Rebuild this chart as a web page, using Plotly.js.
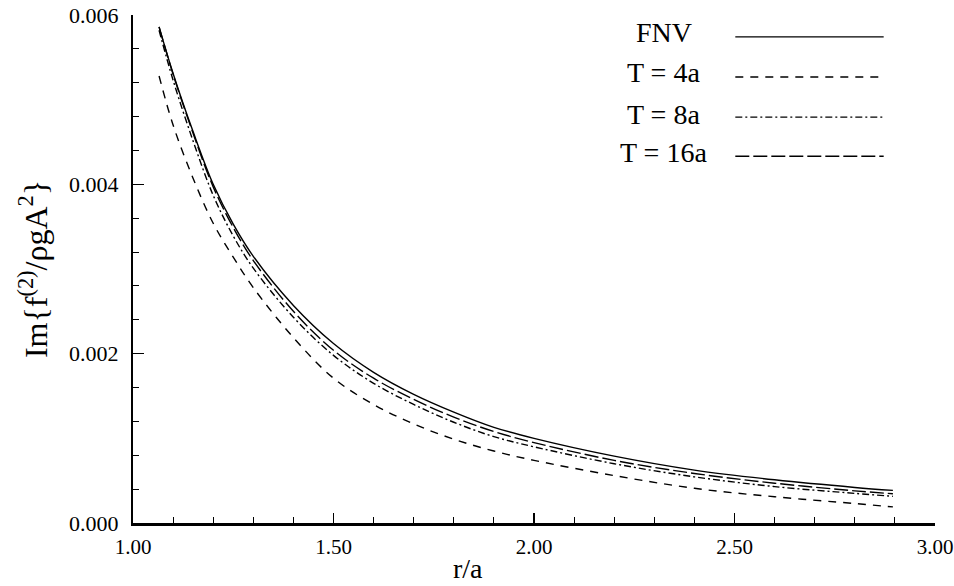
<!DOCTYPE html>
<html>
<head>
<meta charset="utf-8">
<script src="https://cdn.plot.ly/plotly-3.0.1.min.js"></script>
<style>html,body{margin:0;padding:0;background:#fff;}#chart{width:954px;height:586px;}</style>
</head>
<body>
<div id="chart"></div>
<script>
// r/a sample positions
const rA = [1.065, 1.10, 1.15, 1.20, 1.25, 1.30, 1.40, 1.50, 1.60, 1.70, 1.80, 1.90, 2.00, 2.20, 2.40, 2.60, 2.80, 2.895];
// Im{f(2)/rho g A^2}
const fnv  = [0.00586, 0.00531, 0.00462, 0.00400, 0.00353, 0.00315, 0.00257, 0.00212, 0.00178, 0.00152, 0.00131, 0.00113, 0.00100, 0.00079, 0.000625, 0.00051, 0.00042, 0.000385];
const t4a  = [0.00528, 0.00470, 0.00407, 0.00354, 0.00314, 0.00278, 0.00219, 0.00171, 0.00140, 0.00117, 0.00099, 0.00085, 0.00074, 0.00056, 0.00041, 0.00031, 0.00023, 0.00019];
const t8a  = [0.00582, 0.00523, 0.00451, 0.00387, 0.00339, 0.00301, 0.00243, 0.00198, 0.00165, 0.00140, 0.00119, 0.00102, 0.00090, 0.00070, 0.000545, 0.00043, 0.00035, 0.000315];
const t16a = [0.00586, 0.00530, 0.00460, 0.00397, 0.00349, 0.00310, 0.00250, 0.00204, 0.00171, 0.00146, 0.00125, 0.00108, 0.00095, 0.00074, 0.000585, 0.00047, 0.00038, 0.000345];

const seriesNames = ["FNV", "T = 4a", "T = 8a", "T = 16a"];
const seriesData = [fnv, t4a, t8a, t16a];
const dashes = ["solid", "8px,7px", "7px,3px,2px,3px", "14px,4px"];

const xTickVals = [1.0, 1.5, 2.0, 2.5, 3.0];
const xTickText = ["1.00", "1.50", "2.00", "2.50", "3.00"];
const yTickVals = [0, 0.002, 0.004, 0.006];
const yTickText = ["0.000", "0.002", "0.004", "0.006"];

const serif = "Liberation Serif, Times New Roman, serif";

const traces = seriesData.map((ys, i) => ({
  x: rA, y: ys, type: "scatter", mode: "lines", name: seriesNames[i],
  line: {color: "#000", width: 1.4, dash: dashes[i], shape: "spline", smoothing: 1},
  showlegend: false, hoverinfo: "skip"
}));

// legend: label text on the left, line sample on the right
const legLineY = [0.957, 0.878, 0.799, 0.722];
const legTextY = [0.966, 0.886, 0.805, 0.730];
const annotations = seriesNames.map((n, i) => ({
  text: n, xref: "paper", yref: "paper", x: 0.662, y: legTextY[i],
  xanchor: "center", yanchor: "middle", showarrow: false,
  font: {family: serif, size: 28, color: "#000"}
}));
annotations.push({
  text: "r/a", xref: "paper", yref: "paper", x: 0.418, y: -0.09,
  xanchor: "center", yanchor: "middle", showarrow: false,
  font: {family: serif, size: 28, color: "#000"}
});
const shapes = seriesNames.map((n, i) => ({
  type: "line", xref: "paper", yref: "paper",
  x0: 0.751, x1: 0.936, y0: legLineY[i], y1: legLineY[i],
  line: {color: "#000", width: 1.4, dash: dashes[i]}
}));

const layout = {
  width: 954, height: 586,
  margin: {l: 133, r: 19, t: 15, b: 63},
  paper_bgcolor: "#fff", plot_bgcolor: "#fff",
  font: {family: serif, color: "#000"},
  xaxis: {
    range: [1, 3], tickvals: xTickVals, ticktext: xTickText,
    ticks: "inside", ticklen: 10, tickwidth: 1.2, tickcolor: "#000",
    minor: {dtick: 0.1, ticks: "inside", ticklen: 6, tickwidth: 1, tickcolor: "#000"},
    showline: true, linecolor: "#000", linewidth: 2.5, showgrid: false, zeroline: false,
    tickfont: {family: serif, size: 21, color: "#000"}, ticklabelstandoff: 3,
    ticklabeloverflow: "allow"
  },
  yaxis: {
    range: [0, 0.006], tickvals: yTickVals, ticktext: yTickText,
    ticks: "inside", ticklen: 11, tickwidth: 1.2, tickcolor: "#000",
    minor: {dtick: 0.0004, ticks: "inside", ticklen: 6, tickwidth: 1, tickcolor: "#000"},
    showline: true, linecolor: "#000", linewidth: 2.2, showgrid: false, zeroline: false,
    tickfont: {family: serif, size: 22, color: "#000"}, ticklabelstandoff: 8,
    ticklabeloverflow: "allow",
    title: {text: "Im{f<sup>(2)</sup>/ρgA<sup>2</sup>}", font: {family: serif, size: 32, color: "#000"}, standoff: 12}
  },
  annotations: annotations,
  shapes: shapes
};

Plotly.newPlot("chart", traces, layout, {staticPlot: true, displayModeBar: false});
</script>
</body>
</html>
